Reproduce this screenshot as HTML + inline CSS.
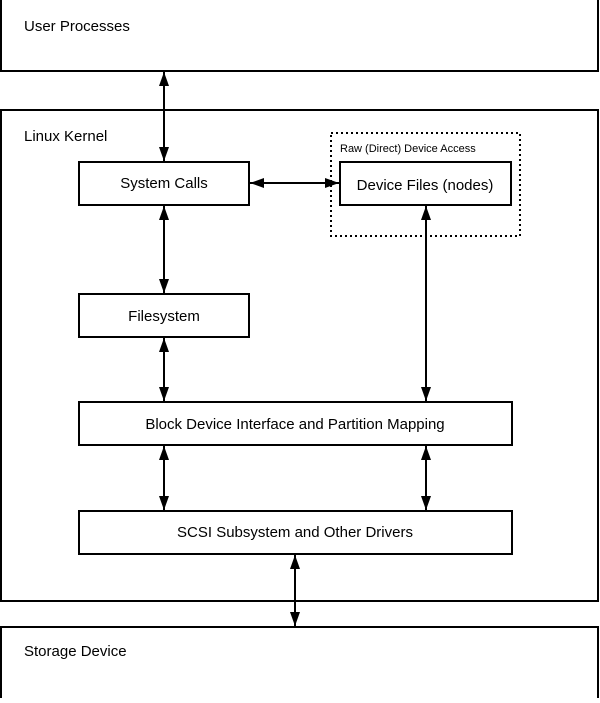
<!DOCTYPE html>
<html><head><style>body{margin:0;background:#fff}</style></head><body>
<svg width="600" height="698" xmlns="http://www.w3.org/2000/svg" font-family="Liberation Sans, sans-serif">
<defs><marker id="a" viewBox="0 0 14 12" refX="14" refY="6" markerWidth="14" markerHeight="12" markerUnits="userSpaceOnUse" orient="auto-start-reverse"><path d="M0,1 L14,6 L0,11 z" fill="#000"/></marker></defs>
<g fill="none" stroke="#000" stroke-width="2">
<rect x="1" y="-2" width="597" height="73"/>
<rect x="1" y="110" width="597" height="491"/>
<rect x="1" y="627" width="597" height="73"/>
<rect x="79" y="162" width="170" height="43"/>
<rect x="340" y="162" width="171" height="43"/>
<rect x="331" y="133" width="189" height="103" stroke-dasharray="2,3"/>
<rect x="79" y="294" width="170" height="43"/>
<rect x="79" y="402" width="433" height="43"/>
<rect x="79" y="511" width="433" height="43"/>
<g marker-start="url(#a)" marker-end="url(#a)">
<line x1="164" y1="72" x2="164" y2="161"/>
<line x1="164" y1="206" x2="164" y2="293"/>
<line x1="164" y1="338" x2="164" y2="401"/>
<line x1="164" y1="446" x2="164" y2="510"/>
<line x1="426" y1="206" x2="426" y2="401"/>
<line x1="426" y1="446" x2="426" y2="510"/>
<line x1="295" y1="555" x2="295" y2="626"/>
<line x1="250" y1="183" x2="339" y2="183"/>
</g></g>
<g font-size="15" fill="#000">
<text x="24" y="31">User Processes</text>
<text x="24" y="141">Linux Kernel</text>
<text x="164" y="188" text-anchor="middle">System Calls</text>
<text x="425" y="190" text-anchor="middle">Device Files (nodes)</text>
<text x="164" y="321" text-anchor="middle">Filesystem</text>
<text x="295" y="429" text-anchor="middle">Block Device Interface and Partition Mapping</text>
<text x="295" y="537" text-anchor="middle">SCSI Subsystem and Other Drivers</text>
<text x="24" y="656">Storage Device</text>
<text x="340" y="152" font-size="11">Raw (Direct) Device Access</text>
</g>
</svg>
</body></html>
